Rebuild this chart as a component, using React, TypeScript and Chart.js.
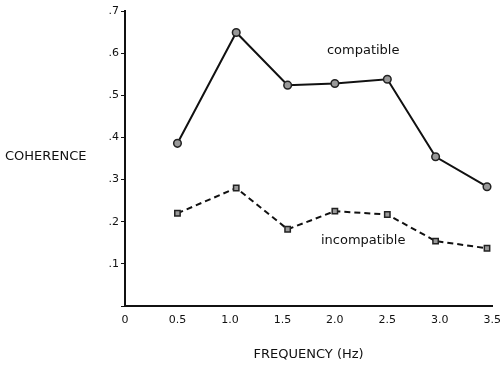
import React, { useEffect, useRef } from "react";
import { Chart, registerables } from "chart.js";

Chart.register(...registerables);

const frequencies = [0.5, 1.06, 1.55, 2.0, 2.5, 2.96, 3.45];
const compatible = [0.386, 0.649, 0.524, 0.528, 0.538, 0.354, 0.283];
const incompatible = [0.22, 0.28, 0.182, 0.225, 0.217, 0.154, 0.137];
const xTickLabels: Record<string, string> = {
  "0": "0", "0.5": "0.5", "1": "1.0", "1.5": "1.5", "2": "2.0", "2.5": "2.5", "3": "3.0", "3.5": "3.5",
};
const yTickLabels: Record<string, string> = {
  "0.1": ".1", "0.2": ".2", "0.3": ".3", "0.4": ".4", "0.5": ".5", "0.6": ".6", "0.7": ".7",
};

const FONT2 = "'DejaVu Sans', sans-serif";

const textPlugin = {
  id: "texts",
  afterDraw(chart: any) {
    const ctx = chart.ctx;
    const xs = chart.scales.x;
    const ys = chart.scales.y;
    ctx.save();
    ctx.fillStyle = "#111";
    ctx.textBaseline = "middle";
    ctx.font = `13px ${FONT2}`;
    ctx.textAlign = "left";
    ctx.fillText("COHERENCE", 5, 157);
    ctx.textAlign = "center";
    ctx.fillText("compatible", xs.getPixelForValue(2.27), ys.getPixelForValue(0.606));
    ctx.fillText("incompatible", xs.getPixelForValue(2.27), ys.getPixelForValue(0.154));
    ctx.restore();
  },
};

export default function App() {
  const ref = useRef<HTMLCanvasElement>(null);
  useEffect(() => {
    const chart = new Chart(ref.current!, {
      type: "line",
      data: {
        datasets: [
          {
            label: "compatible",
            data: frequencies.map((f, i) => ({ x: f, y: compatible[i] })),
            borderColor: "#111",
            borderWidth: 2,
            pointStyle: "circle",
            pointRadius: 3.8,
            pointBackgroundColor: "#999",
            pointBorderColor: "#222",
            pointBorderWidth: 1.5,
            tension: 0,
          },
          {
            label: "incompatible",
            data: frequencies.map((f, i) => ({ x: f, y: incompatible[i] })),
            borderColor: "#111",
            borderWidth: 2,
            borderDash: [6, 4],
            pointStyle: "rect",
            pointRadius: 3.8,
            pointBackgroundColor: "#999",
            pointBorderColor: "#222",
            pointBorderWidth: 1.5,
            tension: 0,
          },
        ],
      },
      options: {
        animation: false,
        responsive: false,
        layout: { padding: { left: 85, right: 0, top: 11, bottom: 4 } },
        plugins: { legend: { display: false }, tooltip: { enabled: false } },
        scales: {
          x: {
            type: "linear",
            min: 0,
            max: 3.5,
            grid: { display: false },
            border: { display: true, color: "#111", width: 2 },
            ticks: {
              stepSize: 0.5,
              color: "#111",
              font: { family: FONT2, size: 11 },
              padding: 0,
              maxRotation: 0,
              callback: (v: any) => xTickLabels[String(v)] ?? "",
            },
            title: {
              display: true,
              text: "FREQUENCY (Hz)",
              color: "#111",
              font: { family: FONT2, size: 13 },
              padding: { top: 17, bottom: 0 },
            },
            afterFit: (s: any) => { s.height = 56; },
          },
          y: {
            type: "linear",
            min: 0,
            max: 0.7,
            grid: { drawOnChartArea: false, drawTicks: true, tickLength: 4, color: "#111", lineWidth: 1 },
            border: { display: true, color: "#111", width: 2 },
            ticks: {
              stepSize: 0.1,
              color: "#111",
              font: { family: FONT2, size: 11 },
              padding: 2,
              callback: (v: any) => yTickLabels[String(Math.round(v * 10) / 10)] ?? "",
            },
            afterFit: (s: any) => { s.width = 40; },
          },
        },
      },
      plugins: [textPlugin],
    });
    return () => chart.destroy();
  }, []);
  return (
    <div style={{ position: "fixed", left: 0, top: 0, width: 501, height: 366, background: "#fff" }}>
      <canvas ref={ref} width={501} height={366} />
    </div>
  );
}
